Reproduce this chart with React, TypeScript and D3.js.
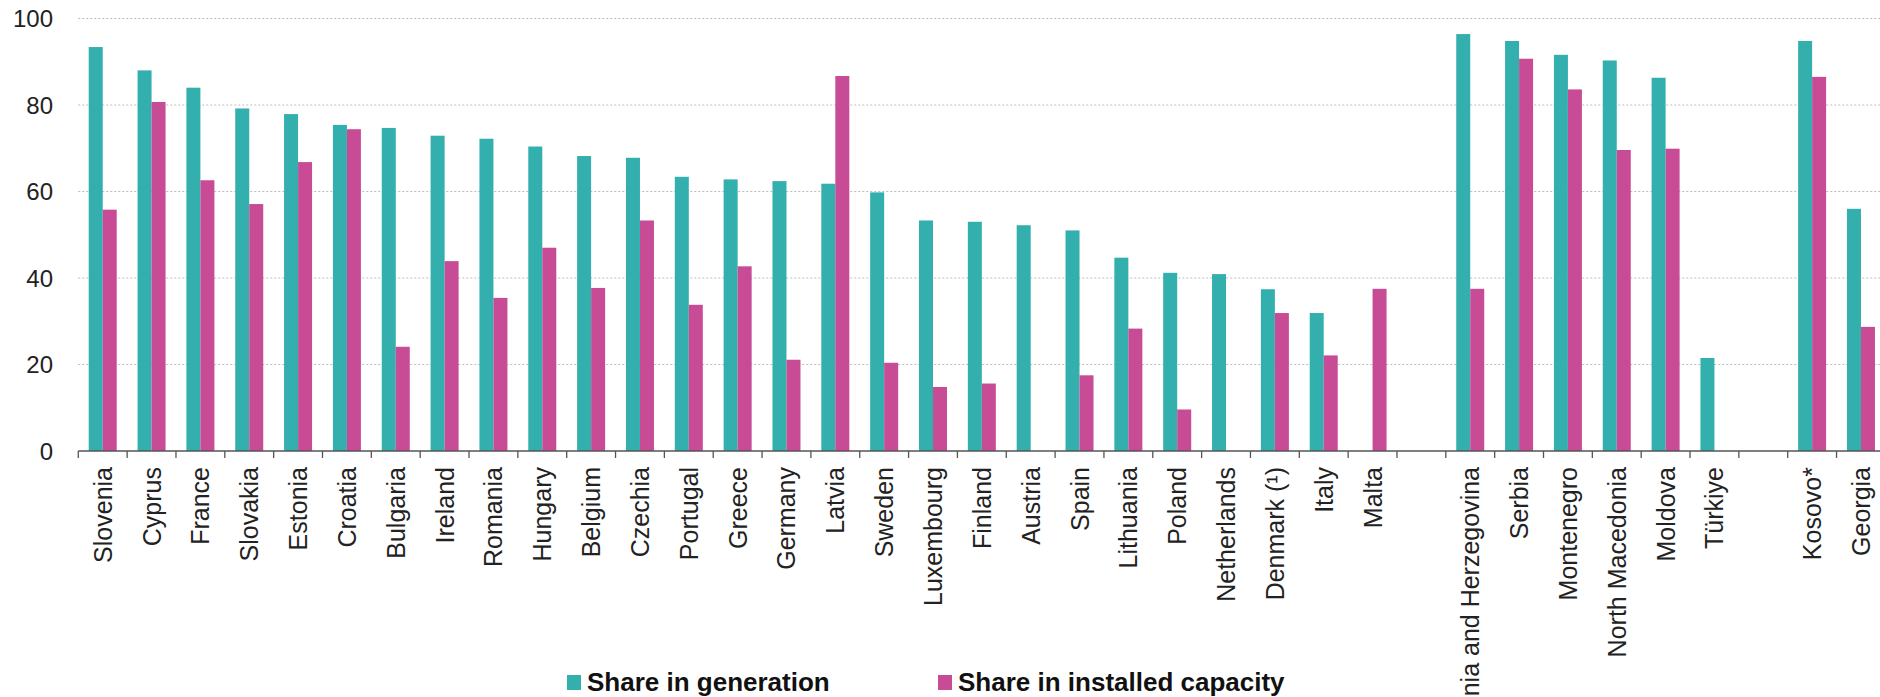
import React from "react";
import * as d3 from "d3";

const categories: string[] = [
  "Slovenia", "Cyprus", "France", "Slovakia", "Estonia", "Croatia", "Bulgaria", "Ireland",
  "Romania", "Hungary", "Belgium", "Czechia", "Portugal", "Greece", "Germany", "Latvia",
  "Sweden", "Luxembourg", "Finland", "Austria", "Spain", "Lithuania", "Poland", "Netherlands",
  "Denmark (¹)", "Italy", "Malta", "", "Bosnia and Herzegovina", "Serbia", "Montenegro",
  "North Macedonia", "Moldova", "Türkiye", "", "Kosovo*", "Georgia",
];

const shareGeneration: (number | null)[] = [
  93.4, 88.0, 84.0, 79.2, 77.9, 75.4, 74.7, 72.9,
  72.2, 70.4, 68.2, 67.8, 63.4, 62.8, 62.4, 61.8,
  59.8, 53.3, 53.0, 52.2, 51.0, 44.7, 41.2, 40.9,
  37.4, 31.9, null, null, 96.4, 94.8, 91.6,
  90.3, 86.3, 21.5, null, 94.8, 56.0,
];

const shareCapacity: (number | null)[] = [
  55.8, 80.7, 62.6, 57.1, 66.8, 74.4, 24.1, 43.9,
  35.4, 47.0, 37.7, 53.3, 33.8, 42.7, 21.1, 86.7,
  20.4, 14.8, 15.6, null, 17.5, 28.3, 9.6, null,
  31.9, 22.1, 37.5, null, 37.5, 90.7, 83.6,
  69.6, 69.9, null, null, 86.5, 28.7,
];

const yTicks: number[] = [0, 20, 40, 60, 80, 100];
const seriesNames: string[] = ["Share in generation", "Share in installed capacity"];
const seriesColors: string[] = ["#33afad", "#c84b96"];

const W = 1880;
const H = 697;
const FONT = "'Liberation Sans', Arial, Helvetica, sans-serif";

export default function App() {
  const keys = categories.map((c, i) => `${i}`);
  const x = d3.scaleBand<string>().domain(keys).range([78.3, 78.3 + 37 * 48.84]).padding(0);
  const bw = x.bandwidth();
  const x1 = d3.scaleBand<string>().domain(["gen", "cap"]).range([bw / 2 - 14, bw / 2 + 14]).padding(0);
  const y = d3.scaleLinear().domain([0, 100]).range([451, 18.5]);

  const series = [shareGeneration, shareCapacity];
  const sub = ["gen", "cap"];

  return (
    <svg width={W} height={H} style={{ position: "absolute", left: 0, top: 0, background: "#fff" }} fontFamily={FONT}>
      {/* grid */}
      {yTicks.filter((t) => t > 0).map((t) => (
        <line key={`g${t}`} x1={78.3} x2={W} y1={y(t)} y2={y(t)} stroke="#bdbdbd" strokeWidth={1} strokeDasharray="2,2" />
      ))}
      {/* y labels */}
      {yTicks.map((t) => (
        <text key={`yl${t}`} x={53} y={y(t)} dy="0.36em" textAnchor="end" fontSize={24} fill="#222">
          {t}
        </text>
      ))}
      {/* bars */}
      {series.map((vals, si) =>
        vals.map((v, i) =>
          v == null ? null : (
            <rect
              key={`b${si}-${i}`}
              x={(x(keys[i]) as number) + (x1(sub[si]) as number)}
              y={y(v)}
              width={x1.bandwidth()}
              height={y(0) - y(v)}
              fill={seriesColors[si]}
            />
          )
        )
      )}
      {/* axis */}
      <line x1={78.3} x2={W} y1={y(0)} y2={y(0)} stroke="#555" strokeWidth={1.5} />
      {keys.concat(["end"]).map((k, i) => {
        const xx = k === "end" ? x.range()[1] : (x(k) as number);
        return <line key={`t${i}`} x1={xx} x2={xx} y1={y(0)} y2={y(0) + 7} stroke="#555" strokeWidth={1.3} />;
      })}
      {/* x labels */}
      {categories.map((c, i) =>
        c ? (
          <text
            key={`xl${i}`}
            transform={`translate(${(x(keys[i]) as number) + bw / 2},467) rotate(-90)`}
            textAnchor="end"
            dy="0.36em"
            fontSize={25}
            fill="#222"
          >
            {c}
          </text>
        ) : null
      )}
      {/* legend */}
      {seriesNames.map((n, i) => {
        const lx = i === 0 ? 567 : 938;
        return (
          <g key={`lg${i}`}>
            <rect x={lx} y={675} width={14} height={15} fill={seriesColors[i]} />
            <text x={lx + 20} y={691} fontSize={26} fontWeight="bold" fill="#111">
              {n}
            </text>
          </g>
        );
      })}
    </svg>
  );
}
